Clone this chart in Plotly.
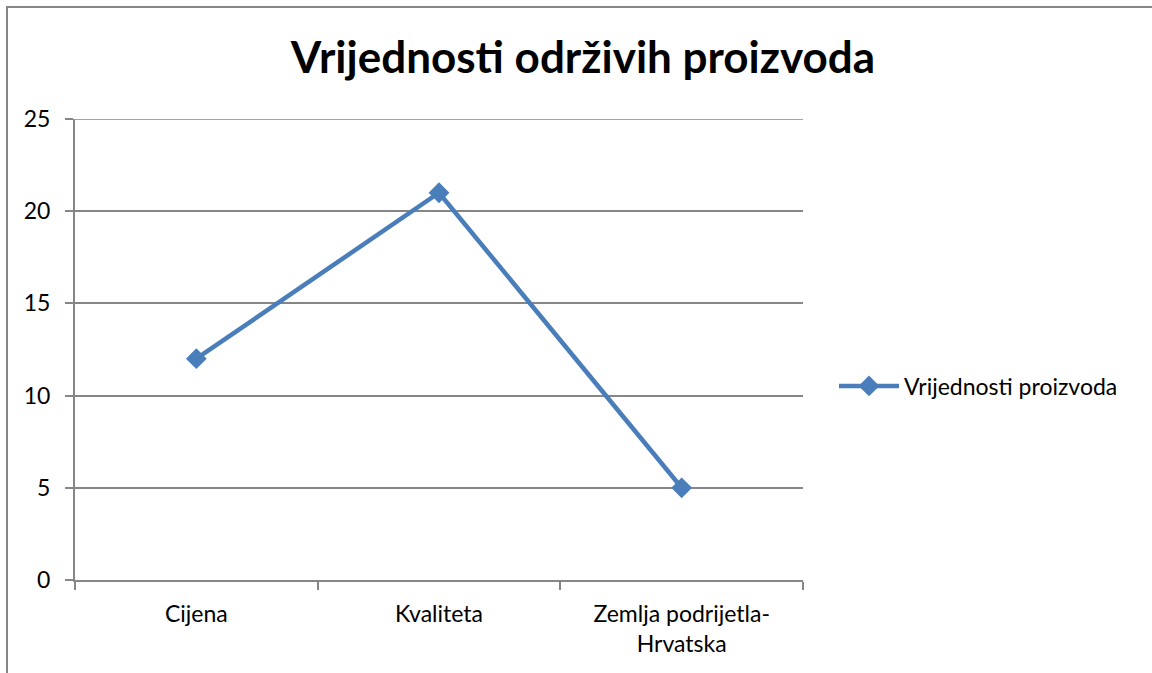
import plotly.graph_objects as go

categories = ["Cijena", "Kvaliteta", "Zemlja podrijetla-<br>Hrvatska"]
values = [12, 21, 5]
series_name = "Vrijednosti proizvoda"
title = "Vrijednosti održivih proizvoda"
y_ticks = [0, 5, 10, 15, 20, 25]

FONT = "Lato, Open Sans, sans-serif"
GRAY = "#868686"
BLUE = "#4A7EBB"

W, H = 1152, 673
L, R, T, B = 75, 803, 119, 580
pw, ph = R - L, B - T


def px_x(x):
    return (x - L) / pw


def px_y(y):
    return (B - y) / ph


fig = go.Figure()
fig.add_trace(go.Scatter(
    x=categories, y=values, mode="lines+markers", name=series_name,
    line=dict(color=BLUE, width=4.5),
    marker=dict(symbol="diamond", size=16, color=BLUE),
))

fig.update_layout(
    width=W, height=H,
    margin=dict(l=L, r=W - R, t=T, b=H - B, pad=0),
    paper_bgcolor="white", plot_bgcolor="white",
    font=dict(family=FONT, size=23, color="black"),
    title=dict(text="<b>" + title + "</b>", x=px_x(583), xref="paper", xanchor="center",
               y=1 - 58 / H, yanchor="middle", font=dict(size=44, family=FONT)),
    showlegend=True,
    legend=dict(x=px_x(834), y=px_y(386), xanchor="left", yanchor="middle",
                font=dict(size=23), itemwidth=60, bgcolor="rgba(0,0,0,0)"),
    xaxis=dict(range=[-0.5, 2.5], showline=True, linecolor=GRAY, linewidth=2,
               ticks="outside", tickson="boundaries", ticklen=8, tickcolor=GRAY, tickwidth=2,
               showgrid=False, zeroline=False, ticklabelstandoff=12),
    yaxis=dict(range=[0, 25], tickvals=y_ticks, showline=True, linecolor=GRAY, linewidth=2,
               ticks="outside", ticklen=8, tickcolor=GRAY, tickwidth=2,
               showgrid=True, gridcolor=GRAY, gridwidth=1.5, zeroline=False,
               ticklabelstandoff=10),
    shapes=[
        dict(type="rect", xref="paper", yref="paper",
             x0=px_x(7), x1=px_x(1200), y0=px_y(720), y1=px_y(7),
             line=dict(color=GRAY, width=2), layer="below"),
        dict(type="line", xref="paper", yref="y", x0=0, x1=1, y0=max(y_ticks), y1=max(y_ticks),
             line=dict(color=GRAY, width=1.5), layer="below"),
    ],
)

fig.write_html("out.html", config={"displayModeBar": False},
               post_script="document.body.style.margin='0';")
